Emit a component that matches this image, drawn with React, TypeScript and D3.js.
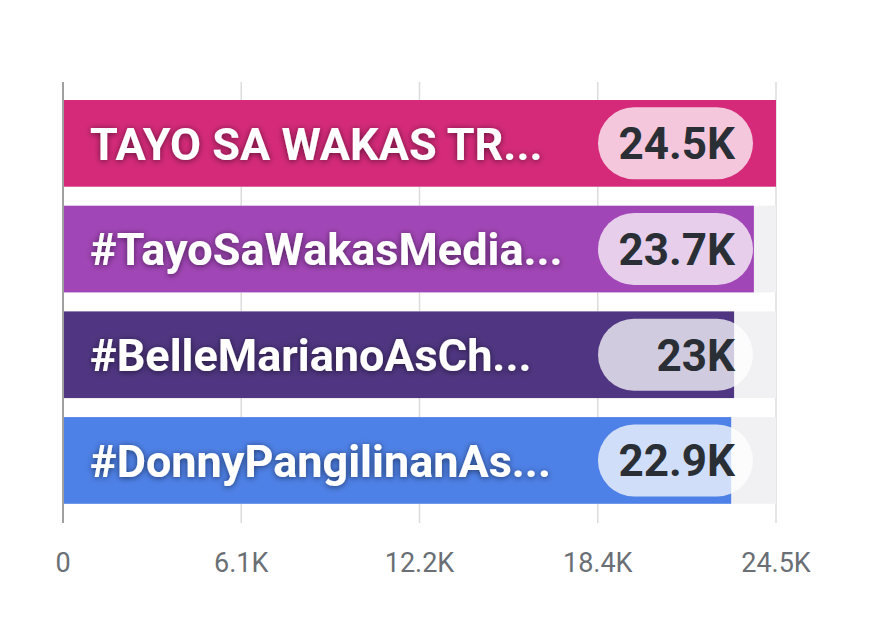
import React from "react";
import * as d3 from "d3";

const labels = [
  "TAYO SA WAKAS TR...",
  "#TayoSaWakasMedia...",
  "#BelleMarianoAsCh...",
  "#DonnyPangilinanAs...",
];
const values = [24500, 23740, 23060, 22960];
const valueLabels = ["24.5K", "23.7K", "23K", "22.9K"];
const colors = ["#d42a79", "#a146b6", "#503682", "#4e81e7"];
const tickValues = [0, 6125, 12250, 18375, 24500];
const tickLabels = ["0", "6.1K", "12.2K", "18.4K", "24.5K"];

const W = 869;
const H = 619;
const font = "Roboto, 'Noto Sans', sans-serif";

export default function App() {
  const x = d3.scaleLinear().domain([0, 24500]).range([63, 776]);
  const y = d3
    .scaleBand<string>()
    .domain(labels)
    .range([90.5, 513.3])
    .paddingInner(0.18)
    .paddingOuter(0.09);
  const bw = y.bandwidth();
  const gridTop = 82;
  const gridBottom = 523;
  const pillRight = x(24500) - 23;
  const pillLeft = pillRight - 155;
  const pillH = 72;

  return (
    <svg
      width={W}
      height={H}
      style={{ position: "absolute", left: 0, top: 0, background: "#fff" }}
    >
      <defs>
        <filter id="shadow" x="-10%" y="-40%" width="120%" height="180%">
          <feDropShadow dx="0" dy="1" stdDeviation="3" floodColor="#000" floodOpacity="0.55" />
        </filter>
      </defs>

      {tickValues.map((t, i) => (
        <line
          key={"g" + i}
          x1={x(t)}
          x2={x(t)}
          y1={gridTop}
          y2={gridBottom}
          stroke={i === 0 ? "#a0a0a0" : "#dcdcdc"}
          strokeWidth={i === 0 ? 2 : 1.5}
        />
      ))}

      {labels.map((l, i) => {
        const top = y(l)!;
        const cy = top + bw / 2;
        return (
          <g key={l}>
            <rect x={x(0) + 1} y={top} width={x(24500) - x(0) - 1} height={bw} fill="#f1f1f4" />
            <rect x={x(0) + 1} y={top} width={x(values[i]) - x(0) - 1} height={bw} fill={colors[i]} />
            <text
              x={90}
              y={cy}
              dy="0.36em"
              fill="#fff"
              fontFamily={font}
              fontWeight={700}
              fontSize={45}
              filter="url(#shadow)"
            >
              {l}
            </text>
            <rect
              x={pillLeft}
              y={cy - pillH / 2}
              width={pillRight - pillLeft}
              height={pillH}
              rx={pillH / 2}
              fill="#fff"
              opacity={0.74}
            />
            <text
              x={pillRight - 18}
              y={cy}
              dy="0.36em"
              textAnchor="end"
              fill="#2a2f36"
              fontFamily={font}
              fontWeight={700}
              fontSize={44}
            >
              {valueLabels[i]}
            </text>
          </g>
        );
      })}

      {tickValues.map((t, i) => (
        <text
          key={"t" + i}
          x={x(t)}
          y={572}
          textAnchor="middle"
          fill="#6a6f75"
          fontFamily={font}
          fontSize={27}
        >
          {tickLabels[i]}
        </text>
      ))}
    </svg>
  );
}
